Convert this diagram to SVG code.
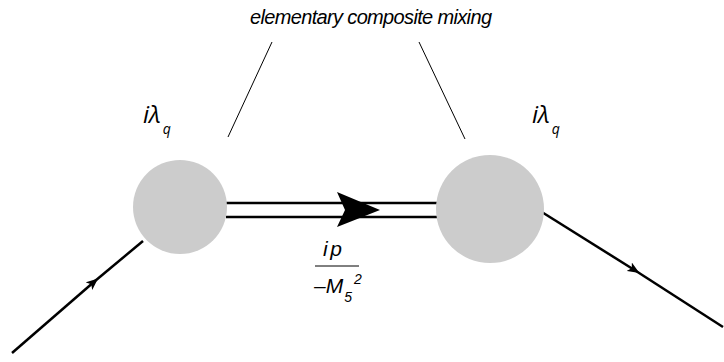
<svg xmlns="http://www.w3.org/2000/svg" width="724" height="362" viewBox="0 0 724 362">
<style>
.ln{stroke:#000;stroke-width:2.5;fill:none}
.thin{stroke:#000;stroke-width:1;fill:none}
.blob{fill:#cccccc}
.t{font-family:"Liberation Sans",Arial,sans-serif;font-style:italic;fill:#000}
.g{font-family:"Open Sans","Noto Sans",sans-serif;font-style:italic;fill:#000}
</style>
<defs>
<marker id="ah" viewBox="0 0 12 10" refX="8" refY="5" markerWidth="12" markerHeight="10" markerUnits="userSpaceOnUse" orient="auto">
<path d="M0,0 L12,5 L0,10 L3,5 Z" fill="#000"/>
</marker>
</defs>
<g id="connectors">
<line class="ln" x1="226" y1="203" x2="437" y2="203"/>
<line class="ln" x1="226" y1="217" x2="437" y2="217"/>
<path d="M337,192 L380,210 L337,227 L345,210 Z" fill="#000"/>
<path class="ln" d="M12,353 L95,281" marker-end="url(#ah)"/>
<line class="ln" x1="95" y1="281" x2="143" y2="241"/>
<path class="ln" d="M537,209 L636,271" marker-end="url(#ah)"/>
<line class="ln" x1="636" y1="271" x2="723" y2="327"/>
<line class="thin" x1="228" y1="137" x2="272" y2="42"/>
<line class="thin" x1="419" y1="42" x2="465" y2="139"/>
</g>
<g id="vertex-left">
<circle class="blob" cx="180" cy="207" r="47"/>
<text class="g" x="143" y="123" font-size="24">iλ<tspan font-size="14" dx="2" dy="11">q</tspan></text>
</g>
<g id="vertex-right">
<circle class="blob" cx="490" cy="209" r="54"/>
<text class="g" x="532" y="123" font-size="24">iλ<tspan font-size="14" dx="2" dy="11">q</tspan></text>
</g>
<g id="title">
<text class="t" x="250" y="24" font-size="20" textLength="242" lengthAdjust="spacing">elementary composite mixing</text>
</g>
<g id="propagator-label">
<text class="t" x="323" y="256" font-size="21" letter-spacing="2.5">ip</text>
<line class="thin" x1="315" y1="266" x2="359" y2="266"/>
<text class="t" x="314" y="293" font-size="21">–M<tspan font-size="14" dx="1" dy="9">5</tspan><tspan font-size="14" dx="2" dy="-18">2</tspan></text>
</g>
</svg>
